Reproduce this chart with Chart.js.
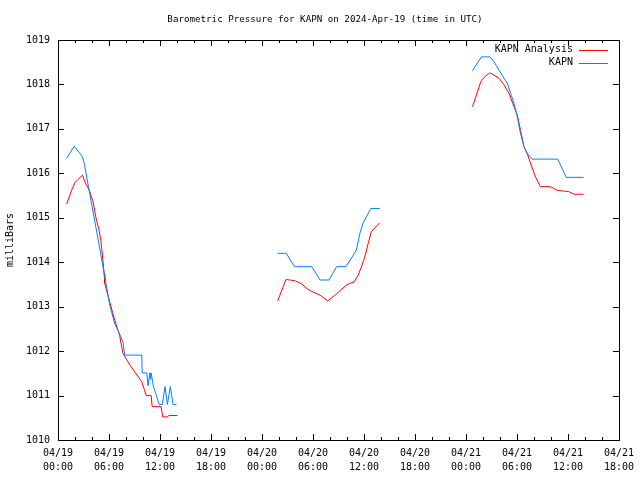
<!DOCTYPE html>
<html>
<head>
<meta charset="utf-8">
<script src="https://cdn.jsdelivr.net/npm/chart.js@4.4.1/dist/chart.umd.min.js"></script>
<style>
  html, body { margin: 0; padding: 0; background: #fff; }
  #wrap { width: 640px; height: 480px; }
</style>
</head>
<body>
<div id="wrap"><canvas id="chart"></canvas></div>
<script>
// ── data: hours since 2024-04-19 00:00 UTC, pressure in mb (null = gap) ──
const analysisHours = [
  1.02, 1.6, 1.99, 2.37, 2.89, 3.16, 3.74, 4.13, 4.44, 4.83, 5.03, 5.23, 5.42, 5.5,
  6.08, 6.67, 7.25, 7.45, 7.64, 8.22, 8.89, 9.86, 10.18, 10.37, 10.96, 11.08, 12.13,
  12.32, 12.9, 13.02, 14.07,
  20,
  25.85, 26.82, 27.33, 27.92, 28.69, 29.27, 29.86, 30.84, 31.73, 32.6, 33.19, 33.95,
  34.85, 35.32, 35.71, 36.1, 36.49, 36.87, 37.86,
  44,
  48.77, 49.74, 50.2, 50.8, 51.3, 51.89, 52.48, 53.06, 53.65, 54.04, 54.42, 54.82,
  55.2, 55.59, 56.18, 56.76, 57.93, 58.71, 59.5, 60.08, 60.71, 61.84
];
const analysisMb = [
  1015.31, 1015.62, 1015.79, 1015.87, 1015.96, 1015.81, 1015.59, 1015.36, 1015.02, 1014.72, 1014.5, 1014.16, 1013.75, 1013.52,
  1013.11, 1012.7, 1012.36, 1012.14, 1011.95, 1011.76, 1011.57, 1011.31, 1011.12, 1011.0, 1011.0, 1010.75, 1010.75,
  1010.52, 1010.52, 1010.55, 1010.55,
  null,
  1013.13, 1013.61, 1013.6, 1013.58, 1013.51, 1013.41, 1013.34, 1013.26, 1013.13, 1013.26, 1013.36, 1013.49,
  1013.56, 1013.71, 1013.9, 1014.12, 1014.42, 1014.69, 1014.89,
  null,
  1017.5, 1018.06, 1018.17, 1018.26, 1018.21, 1018.14, 1017.99, 1017.8, 1017.5, 1017.31, 1016.97, 1016.6,
  1016.45, 1016.23, 1015.92, 1015.7, 1015.7, 1015.62, 1015.6, 1015.59, 1015.53, 1015.53
];

const obsHours = [
  1.02, 1.91, 2.89, 3.08, 3.9, 4.9, 5.58, 6.08, 6.67, 7.05, 7.64, 7.84, 9.86, 9.9,
  10.44, 10.6, 10.8, 10.88, 10.96, 11.23, 11.5, 11.9, 12.28, 12.6, 12.87, 13.22, 13.53, 13.95,
  20,
  25.85, 26.87, 27.33, 27.84, 29.86, 30.84, 31.89, 32.78, 33.88, 34.74, 35.1, 35.52,
  35.91, 36.29, 36.81, 37.86,
  44,
  48.77, 49.82, 50.84, 51.3, 51.89, 52.48, 52.87, 53.25, 53.65, 54.04, 54.42, 54.82,
  55.2, 55.79, 58.8, 59.8, 61.84
];
const obsMb = [
  1016.34, 1016.61, 1016.37, 1016.23, 1015.37, 1014.32, 1013.6, 1013.04, 1012.62, 1012.47, 1012.21, 1011.91, 1011.91, 1011.51,
  1011.51, 1011.22, 1011.51, 1011.36, 1011.51, 1011.2, 1011.05, 1010.8, 1010.8, 1011.2, 1010.8, 1011.2, 1010.8, 1010.8,
  null,
  1014.2, 1014.2, 1014.05, 1013.9, 1013.9, 1013.6, 1013.6, 1013.9, 1013.9, 1014.16, 1014.27, 1014.65,
  1014.89, 1015.02, 1015.21, 1015.21,
  null,
  1018.31, 1018.62, 1018.62, 1018.51, 1018.32, 1018.14, 1018.03, 1017.8, 1017.58, 1017.27, 1016.9, 1016.6,
  1016.45, 1016.32, 1016.32, 1015.91, 1015.91
];

const tickDays  = ['04/19','04/19','04/19','04/19','04/20','04/20','04/20','04/20','04/21','04/21','04/21','04/21'];
const tickTimes = ['00:00','06:00','12:00','18:00','00:00','06:00','12:00','18:00','00:00','06:00','12:00','18:00'];
const yMin = 1010, yMax = 1019;
const titleText = 'Barometric Pressure for KAPN on 2024-Apr-19 (time in UTC)';

const MONO = "'DejaVu Sans Mono', 'Liberation Mono', monospace";

// gnuplot-ish frame: box with inward ticks on all four sides
const framePlugin = {
  id: 'frame',
  afterDatasetsDraw(chart) {
    const {ctx, chartArea: a, scales} = chart;
    ctx.save();
    ctx.strokeStyle = '#000';
    ctx.lineWidth = 1;
    ctx.beginPath();
    for (let v = yMin; v <= yMax; v++) {
      const y = Math.round(scales.y.getPixelForValue(v)) + .5;
      ctx.moveTo(a.left, y); ctx.lineTo(a.left + 6, y);
      ctx.moveTo(a.right, y); ctx.lineTo(a.right - 6, y);
    }
    for (let h = 0; h <= 66; h += 2) {
      const x = Math.round(scales.x.getPixelForValue(h)) + .5;
      const len = h % 6 === 0 ? 6 : 3;
      ctx.moveTo(x, a.bottom); ctx.lineTo(x, a.bottom - len);
      ctx.moveTo(x, a.top); ctx.lineTo(x, a.top + len);
    }
    ctx.stroke();
    ctx.strokeRect(Math.round(a.left) + .5, Math.round(a.top) + .5,
                   Math.round(a.right - a.left), Math.round(a.bottom - a.top));
    ctx.restore();
  }
};

// title + key (text, then line sample) at top right inside the frame
const textPlugin = {
  id: 'texts',
  afterDraw(chart) {
    const {ctx, chartArea: a} = chart;
    ctx.save();
    ctx.fillStyle = '#000';
    ctx.font = '9.2px ' + MONO;
    ctx.textAlign = 'center';
    ctx.textBaseline = 'middle';
    ctx.fillText(titleText, 325, 20);

    ctx.font = '10px ' + MONO;
    ctx.textAlign = 'right';
    chart.data.datasets.forEach((ds, i) => {
      const y = a.top + 9.5 + i * 13;
      ctx.fillStyle = '#000';
      ctx.fillText(ds.label, a.right - 46, y);
      ctx.strokeStyle = ds.borderColor;
      ctx.lineWidth = 1;
      ctx.beginPath();
      ctx.moveTo(a.right - 40, Math.round(y) + .5);
      ctx.lineTo(a.right - 11, Math.round(y) + .5);
      ctx.stroke();
    });
    ctx.restore();
  }
};

const toPoints = (hours, mb) => hours.map((h, i) => ({x: h, y: mb[i]}));

new Chart(document.getElementById('chart'), {
  type: 'line',
  data: {
    datasets: [
      {label: 'KAPN Analysis', data: toPoints(analysisHours, analysisMb), borderColor: '#ff0000',
       borderWidth: 1, pointRadius: 0, tension: 0, spanGaps: false, order: 1},
      {label: 'KAPN', data: toPoints(obsHours, obsMb), borderColor: '#0080ff',
       borderWidth: 1, pointRadius: 0, tension: 0, spanGaps: false, order: 0},
    ]
  },
  options: {
    responsive: true, maintainAspectRatio: false, animation: false,
    layout: {autoPadding: false, padding: {left: 0, right: 19, top: 40, bottom: 0}},
    plugins: {
      legend: {display: false},
      tooltip: {enabled: false},
      title: {display: false}
    },
    scales: {
      x: {
        type: 'linear', min: 0, max: 66,
        grid: {display: false, drawTicks: false}, border: {display: false},
        afterFit: s => { s.height = 40; },
        ticks: {stepSize: 6, color: '#000', padding: 6, maxRotation: 0, autoSkip: false,
                font: {family: MONO, size: 10, lineHeight: 1.4},
                callback: v => [tickDays[v / 6], tickTimes[v / 6]]}
      },
      y: {
        min: yMin, max: yMax,
        grid: {display: false, drawTicks: false}, border: {display: false},
        afterFit: s => { s.width = 58; },
        title: {display: true, text: 'milliBars', color: '#000', padding: {top: 4, bottom: 0},
                font: {family: MONO, size: 10}},
        ticks: {stepSize: 1, color: '#000', padding: 8, font: {family: MONO, size: 10},
                callback: v => String(v)}
      }
    }
  },
  plugins: [framePlugin, textPlugin]
});
</script>
</body>
</html>
